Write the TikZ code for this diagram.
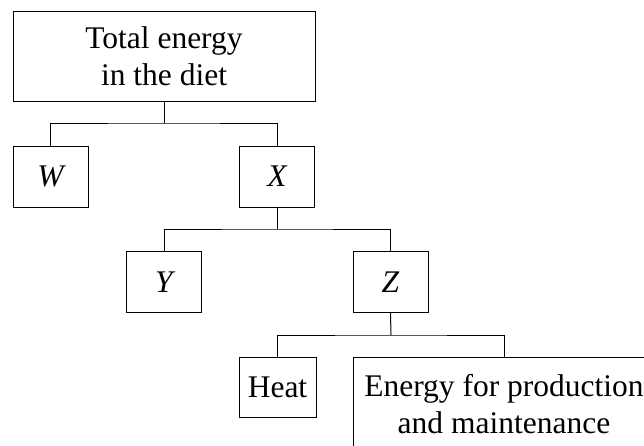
\documentclass[tikz,border=0pt]{standalone}
\usepackage{fontspec}
\setmainfont{Liberation Serif}
\begin{document}
\begin{tikzpicture}[x=1pt,y=-1pt,
  box/.style={draw, line width=1pt, inner sep=0pt, align=center,
    font=\fontsize{31.5}{37.5}\selectfont},
  smallbox/.style={box, minimum width=75pt, minimum height=61pt},
  link/.style={line width=1pt}]
\useasboundingbox (0,0) rectangle (644,445);
\clip (0,0) rectangle (644,445);
\node[box, minimum width=302pt, minimum height=90pt] (top) at (164,56) {Total energy\\in the diet};
\node[smallbox] (W) at (50.5,176.5) {\itshape W};
\node[smallbox] (X) at (277,176.5) {\itshape X};
\node[smallbox] (Y) at (164,282) {\itshape Y};
\node[smallbox] (Z) at (390.5,282) {\itshape Z};
\node[smallbox, minimum width=77pt, minimum height=60pt] (heat) at (277.5,387) {Heat};
\node[box, anchor=north, minimum width=302pt, inner ysep=16.5pt] (energy) at (504,357) {Energy for production\\and maintenance};
\coordinate (j1) at (164,123);
\coordinate (j2) at (277,229);
\coordinate (j3) at (391,335);
\draw[link] (top.south) -- (j1);
\draw[link] (W.north) |- (j1) -| (X.north);
\draw[link] (X.south) -- (j2);
\draw[link] (Y.north) |- (j2) -| (Z.north);
\draw[link] (Z.south) -- (j3);
\draw[link] (heat.north) |- (j3) -| (energy.north);
\end{tikzpicture}
\end{document}
